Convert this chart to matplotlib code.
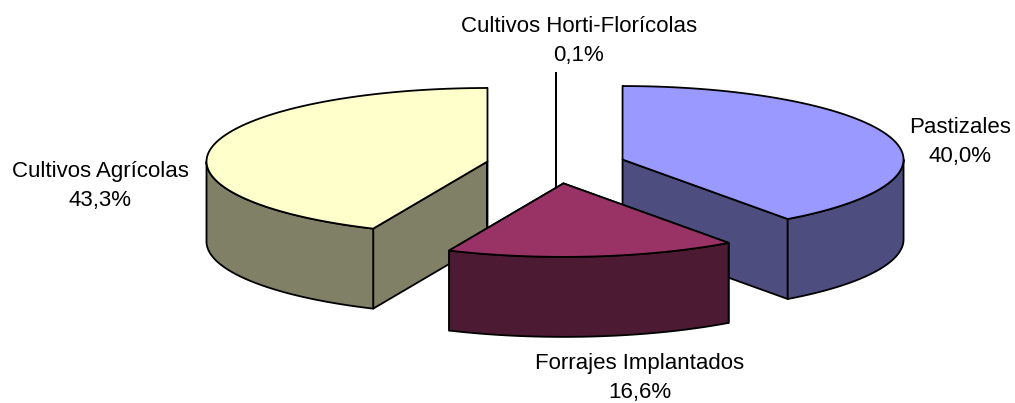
import numpy as np
import matplotlib
matplotlib.use('Agg')
import matplotlib.pyplot as plt

plt.rcParams['font.family'] = ['Liberation Sans', 'DejaVu Sans']

# values in drawing order, clockwise from the top
names = ['Pastizales', 'Forrajes Implantados', 'Cultivos Agrícolas', 'Cultivos Horti-Florícolas']
values = [40.0, 16.6, 43.3, 0.1]
top_colors = ['#9999FF', '#993366', '#FFFFCC', '#FFFFFF']
side_colors = ['#4D4D80', '#4D1A33', '#808066', '#808080']

label_xy = [(960, 142), (640, 378), (100, 186), (579, 41)]

cx, cy = 556.0, 165.2   # pie centre in pixels
a, b = 281.0, 73.5      # ellipse radii
depth = 80.0
explode = 0.249

fig = plt.figure(figsize=(10.15, 4.03), dpi=100)
ax = fig.add_axes([0, 0, 1, 1])
ax.set_xlim(0, 1015)
ax.set_ylim(403, 0)
ax.axis('off')


def arc(x0, y0, t1, t2):
    t = np.radians(np.linspace(t1, t2, 80))
    return np.column_stack([x0 + a * np.sin(t), y0 - b * np.cos(t)])


ends = np.cumsum(values) * 3.6
starts = ends - np.array(values) * 3.6

slices = []
for i in range(len(values)):
    mid = np.radians((starts[i] + ends[i]) / 2)
    x0 = cx + explode * a * np.sin(mid)
    y0 = cy - explode * b * np.cos(mid)
    # the original renders cuts to whole degrees, so the sliver is one line
    slices.append((x0, y0, round(starts[i]), round(ends[i]), top_colors[i], side_colors[i]))

# back to front: horti, agricolas, pastizales, forrajes
order = [3, 2, 0, 1]
lw = 1.3
z = 1
for i in order:
    x0, y0, t1, t2, top, side = slices[i]
    down = np.array([0, depth])
    apex = np.array([x0, y0])
    # cut faces
    for t in (t1, t2):
        p = arc(x0, y0, t, t)[0]
        face = np.array([apex, p, p + down, apex + down])
        ax.fill(face[:, 0], face[:, 1], facecolor=side, edgecolor='k', lw=lw, zorder=z, joinstyle='round')
        z += 1
    # outer wall, only the front half shows
    w1, w2 = max(t1, 90), min(t2, 270)
    if w1 < w2:
        rim = arc(x0, y0, w1, w2)
        wall = np.vstack([rim, rim[::-1] + down])
        ax.fill(wall[:, 0], wall[:, 1], facecolor=side, edgecolor='k', lw=lw, zorder=z, joinstyle='round')
        z += 1
    # top
    rim = arc(x0, y0, t1, t2)
    poly = np.vstack([apex, rim])
    ax.fill(poly[:, 0], poly[:, 1], facecolor=top, edgecolor='k', lw=lw, zorder=z, joinstyle='round')
    z += 1

for i in range(len(values)):
    txt = names[i] + '\n' + ('%.1f%%' % values[i]).replace('.', ',')
    ax.text(label_xy[i][0], label_xy[i][1], txt, ha='center', va='center',
            fontsize=16, color='k', linespacing=1.55, zorder=50)

fig.savefig('out.png', dpi=100, facecolor='white')
